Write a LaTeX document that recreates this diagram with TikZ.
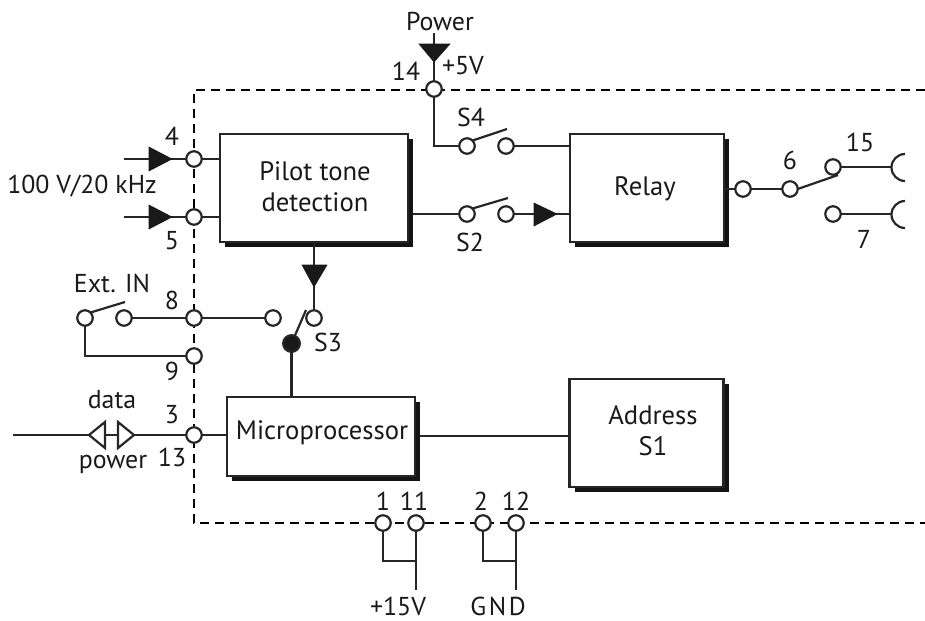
\documentclass[tikz,border=0pt]{standalone}
\usepackage{fontspec}
\setmainfont{PT Sans}
\usetikzlibrary{shadows}
\tikzset{
  ln/.style={line width=1.65pt,draw=black!85,line join=miter},
  term/.style={circle,draw=black!85,fill=white,line width=1.65pt,minimum size=11.6pt,inner sep=0pt,outer sep=0pt},
  blk/.style={draw=black!85,fill=white,line width=1.65pt,inner sep=0pt,outer sep=0pt,align=center,
     general shadow={fill=black!92,shadow xshift=3.75pt,shadow yshift=-3.75pt}},
  lab/.style={inner sep=0pt,font=\fontsize{19.4}{23.25}\selectfont,text=black!90,align=center},
  big/.style={inner sep=0pt,font=\fontsize{20}{23.25}\selectfont,text=black!90,align=center},
  tri/.style={fill=black!90,draw=black!90,line width=.4pt,line join=miter},
  otri/.style={draw=black!85,fill=white,line width=1.65pt,line join=miter},
  dsh/.style={line width=1.65pt,draw=black,dash pattern=on 6.75pt off 4.5pt}
}
\begin{document}
\begin{tikzpicture}[x=0.75pt,y=-0.75pt]
\useasboundingbox (0,0) rectangle (925,621);
% enclosure
\coordinate (dTR) at (925,90);
\coordinate (dTL) at (194,90);
\coordinate (dBL) at (194,523);
\coordinate (dBR) at (925,523);
\draw[dsh] (dTR) -- (dTL) -- (dBL) -- (dBR);
% blocks
\node[blk,minimum width=141pt,minimum height=81pt] (pilot) at (314,188) {};
\node[blk,minimum width=115.5pt,minimum height=81pt] (relay) at (647,188) {};
\node[blk,minimum width=141pt,minimum height=59.25pt] (micro) at (321,436.5) {};
\node[blk,minimum width=115.5pt,minimum height=81pt] (addr) at (646.5,433) {};
\node[big] (tpilot) at (315,186.5) {Pilot tone\\detection};
\node[big] (trelay) at (645,189) {Relay};
\node[big] (tmicro) at (322,433) {Microprocessor};
\node[big] (taddr) at (653,431) {Address\\S1};
% terminals
\node[term] (t14) at (434,89) {};
\node[term] (t4) at (194,159) {};
\node[term] (t5) at (194,217) {};
\node[term] (s4a) at (467,146) {};
\node[term] (s4b) at (506,146) {};
\node[term] (s2a) at (467,214) {};
\node[term] (s2b) at (506,214) {};
\node[term] (r1) at (743,189) {};
\node[term] (t6) at (790,189) {};
\node[term] (t15) at (833,167) {};
\node[term] (t7) at (833,214) {};
\node[term] (e1) at (85,318) {};
\node[term] (e2) at (124,318) {};
\node[term] (t8) at (194,318) {};
\node[term] (s3a) at (273,318) {};
\node[term] (s3b) at (314,318) {};
\node[term] (t9) at (194,356) {};
\node[term] (t3) at (194,435) {};
\node[term] (t1) at (383,523) {};
\node[term] (t11) at (416,523) {};
\node[term] (t2) at (483,523) {};
\node[term] (t12) at (516,523) {};
\node[circle,draw=black!85,fill=black!90,line width=1.65pt,minimum size=12.5pt,inner sep=0pt,outer sep=0pt] (s3c) at (291.5,343.5) {};
% free ends
\coordinate (pw) at (434,33);
\coordinate (in4) at (124,159);
\coordinate (in5) at (124,217);
\coordinate (dl) at (13,435);
\coordinate (v15) at (416,590);
\coordinate (gnd) at (516,590);
\coordinate (j1) at (416,561);
\coordinate (j2) at (516,561);
\coordinate (s4e) at (507,129);
\coordinate (s2e) at (508,198);
\coordinate (re) at (838,175);
\coordinate (ee) at (125,302);
\coordinate (s3e) at (306,310);
\coordinate (c15) at (892,167);
\coordinate (c7) at (892,214);
% connectors
\draw[ln] (pw) -- (t14);
\draw[ln] (t14) |- (s4a);
\draw[ln] (s4b) -- (s4b -| relay.west);
\draw[ln] (s2a -| pilot.east) ++(3.75pt,0) -- (s2a);
\draw[ln] (s2b) -- (s2b -| relay.west);
\draw[ln] (in4) -- (t4);
\draw[ln] (in5) -- (t5);
\draw[ln] (t4) -- (t4 -| pilot.west);
\draw[ln] (t5) -- (t5 -| pilot.west);
\draw[ln] (s3b |- pilot.south) -- (s3b);
\draw[ln] (e2) -- (t8);
\draw[ln] (t8) -- (s3a);
\draw[ln] (e1) |- (t9);
\draw[ln] (s3c) -- (s3c |- micro.north);
\draw[ln] (dl) -- (t3);
\draw[ln] (t3) -- (t3 -| micro.west);
\draw[ln] (micro.east |- addr.west) ++(3.75pt,3) -- (addr.west |- 0,436);
\draw[ln] (relay.east |- r1) -- (r1);
\draw[ln] (r1) -- (t6);
\draw[ln] (t15) -- (c15);
\draw[ln] (t7) -- (c7);
\draw[ln] (t1) |- (j1);
\draw[ln] (t11) -- (v15);
\draw[ln] (t2) |- (j2);
\draw[ln] (t12) -- (gnd);
% switch arms
\draw[ln] (s4a.45) -- (s4e);
\draw[ln] (s2a.45) -- (s2e);
\draw[ln] (t6.east) -- (re);
\draw[ln] (s3c) -- (s3e);
\draw[ln] (e1.45) -- (ee);
% socket arcs
\draw[ln] (905,154) arc[start angle=90,end angle=270,radius=13.5*0.75pt];
\draw[ln] (905,201) arc[start angle=90,end angle=270,radius=13.5*0.75pt];
% arrows
\draw[tri] (419,44) -- (450,44) -- (434,62) -- cycle;
\draw[tri] (149,147) -- (172,159) -- (149,171) -- cycle;
\draw[tri] (149,205) -- (172,217) -- (149,229) -- cycle;
\draw[tri] (534,203) -- (557,214) -- (534,226) -- cycle;
\draw[tri] (302,265) -- (327,265) -- (314,287) -- cycle;
\draw[otri] (105,422) -- (89,435) -- (105,448) -- cycle;
\draw[otri] (118,422) -- (134,435) -- (118,448) -- cycle;
% labels
\node[lab] (lpower) at (440,21) {Power};
\node[lab] (l14) at (406,71) {14};
\node[lab] (l5v) at (463,66) {+5V};
\node[lab] (l4) at (172,136) {4};
\node[lab] (l5) at (172,241) {5};
\node[lab] (l100) at (82,186) {100 V/20 kHz};
\node[lab] (ls4) at (471,117) {S4};
\node[lab] (ls2) at (470,242) {S2};
\node[lab] (l6) at (790,160) {6};
\node[lab] (l15) at (860,142) {15};
\node[lab] (l7) at (864,239) {7};
\node[lab] (lext) at (112,283) {Ext. IN};
\node[lab] (l8) at (172,300) {8};
\node[lab] (ls3) at (328,342) {S3};
\node[lab] (l9) at (172,371) {9};
\node[lab] (ldata) at (112,400) {data};
\node[lab] (l3) at (172,415) {3};
\node[lab] (l13) at (172,457) {13};
\node[lab] (lpw) at (113,464) {power};
\node[lab] (l1) at (383,501) {1};
\node[lab] (l11) at (414,501) {11};
\node[lab] (l2) at (481,501) {2};
\node[lab] (l12) at (516,501) {12};
\node[lab] (lv15) at (398,606) {+15V};
\node[lab] (lgnd) at (498,606) {\addfontfeature{LetterSpace=10}GND};
\end{tikzpicture}
\end{document}
